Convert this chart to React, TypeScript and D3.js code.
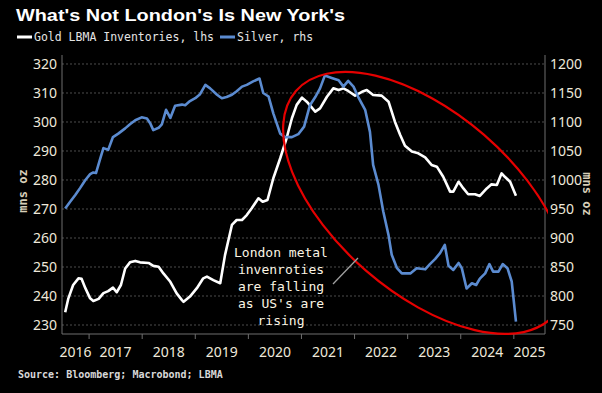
import React, { useEffect, useRef } from "react";
import * as d3 from "d3";

// gold LBMA inventories (lhs, mns oz), dates as decimal years
const goldDates = [
  2016.55, 2016.61, 2016.7, 2016.8, 2016.86, 2016.93, 2017.02, 2017.08, 2017.18, 2017.27,
  2017.36, 2017.45, 2017.52, 2017.6, 2017.68, 2017.77, 2017.87, 2017.96, 2018.12, 2018.21,
  2018.31, 2018.4, 2018.53, 2018.65, 2018.75, 2018.78, 2018.9, 2019.03, 2019.15, 2019.22,
  2019.34, 2019.47, 2019.56, 2019.69, 2019.78, 2019.88, 2019.97, 2020.06, 2020.19, 2020.27,
  2020.36, 2020.47, 2020.6, 2020.72, 2020.82, 2020.91, 2021.01, 2021.1, 2021.26, 2021.35,
  2021.48, 2021.6, 2021.7, 2021.79, 2021.88, 2022.01, 2022.14, 2022.23, 2022.35, 2022.51,
  2022.64, 2022.76, 2022.86, 2022.95, 2023.08, 2023.2, 2023.33, 2023.45, 2023.55, 2023.67,
  2023.8, 2023.86, 2023.96, 2024.05, 2024.14, 2024.27, 2024.36, 2024.49, 2024.58, 2024.68,
  2024.77, 2024.83, 2024.93, 2025.04,
];
const goldValues = [
  234.4, 239.2, 243.8, 246.1, 245.9, 242.7, 239.2, 238.3, 239, 241,
  241.7, 242.9, 241.3, 243.8, 249.5, 251.6, 252.1, 251.6, 251.4, 250.4,
  250.1, 247.8, 244.9, 240.9, 238.6, 238, 239.8, 242.7, 246.1, 246.7,
  245.5, 244.4, 254.1, 264.5, 266.2, 266.2, 267.9, 270.2, 273.7, 272.5,
  273.1, 280.6, 287.5, 294.4, 301.3, 305.9, 308.4, 307, 303.6, 304.7,
  308.7, 311.6, 311, 311.6, 310.7, 309.1, 310.4, 311, 309.3, 309.1,
  307, 300.1, 295.5, 291.8, 289.8, 289.2, 287.8, 285.2, 284.6, 281.1,
  276, 276, 279.4, 277.1, 275.1, 275.1, 274.5, 277.1, 278.5, 278.3,
  282.3, 281.1, 279.4, 274.6,
];

// silver (rhs, mns oz)
const silverDates = [
  2016.55, 2016.64, 2016.74, 2016.83, 2016.93, 2017.02, 2017.08, 2017.13, 2017.21, 2017.27,
  2017.36, 2017.45, 2017.55, 2017.68, 2017.77, 2017.87, 2017.99, 2018.09, 2018.15, 2018.21,
  2018.31, 2018.37, 2018.45, 2018.53, 2018.62, 2018.75, 2018.81, 2018.9, 2019.0, 2019.09,
  2019.19, 2019.28, 2019.41, 2019.5, 2019.59, 2019.69, 2019.78, 2019.88, 2019.97, 2020.09,
  2020.21, 2020.28, 2020.38, 2020.47, 2020.6, 2020.69, 2020.82, 2020.94, 2021.05, 2021.16,
  2021.26, 2021.35, 2021.44, 2021.57, 2021.7, 2021.79, 2021.88, 2021.98, 2022.07, 2022.2,
  2022.29, 2022.35, 2022.45, 2022.54, 2022.64, 2022.7, 2022.8, 2022.89, 2023.05, 2023.17,
  2023.33, 2023.42, 2023.52, 2023.61, 2023.7, 2023.77, 2023.86, 2023.96, 2024.02, 2024.11,
  2024.21, 2024.29, 2024.36, 2024.46, 2024.54, 2024.61, 2024.71, 2024.79, 2024.88, 2024.96,
  2025.04,
];
const silverValues = [
  951, 962, 974, 986, 1000, 1010, 1013, 1012, 1037, 1055,
  1052, 1074, 1080, 1089, 1096, 1103, 1108, 1106, 1098, 1086,
  1090, 1096, 1121, 1107, 1128, 1130, 1129, 1136, 1141, 1148,
  1164, 1158, 1147, 1141, 1143, 1147, 1153, 1161, 1164, 1170,
  1175, 1150, 1144, 1115, 1080, 1074, 1074, 1079, 1092, 1129,
  1143, 1158, 1180, 1176, 1172, 1161, 1171, 1161, 1143, 1121,
  1083, 1026, 992, 946, 905, 871, 848, 839, 839, 848,
  846, 855, 864, 874, 888, 852, 845, 857, 848, 813,
  822, 819, 830, 839, 855, 842, 842, 855, 848, 825,
  756,
];

const leftTicks = [230, 240, 250, 260, 270, 280, 290, 300, 310, 320];
const rightTicks = [750, 800, 850, 900, 950, 1000, 1050, 1100, 1150, 1200];
const years = [2016, 2017, 2018, 2019, 2020, 2021, 2022, 2023, 2024, 2025];
const noteLines = ["London metal", "invenroties", "are falling", "as US's are", "rising"];

const W = 602;
const H = 393;
const plot = { left: 62, right: 545, top: 55, bottom: 334 };

const App = () => {
  const ref = useRef(null);

  useEffect(() => {
    document.body.style.margin = "0";
    document.body.style.background = "#000";
    const svg = d3.select(ref.current);
    svg.selectAll("*").remove();

    const x = d3.scaleLinear().domain([2016.49, 2025.587]).range([plot.left, plot.right]);
    const yL = d3.scaleLinear().domain([226.9, 323.1]).range([plot.bottom, plot.top]);
    const yR = d3.scaleLinear().domain([734.5, 1215.5]).range([plot.bottom, plot.top]);

    svg.append("rect").attr("width", W).attr("height", H).attr("fill", "#000");

    // title + legend
    svg.append("text")
      .attr("x", 16).attr("y", 21)
      .attr("fill", "#fff")
      .attr("font-family", "Liberation Sans, Arial, sans-serif")
      .attr("font-weight", 900)
      .attr("font-size", 16.5)
      .attr("textLength", 329)
      .attr("lengthAdjust", "spacingAndGlyphs")
      .text("What's Not London's Is New York's");

    const legend = [
      { label: "Gold LBMA Inventories, lhs", color: "#ffffff", x: 17 },
      { label: "Silver, rhs", color: "#5b8bd0", x: 220 },
    ];
    legend.forEach((d) => {
      svg.append("line")
        .attr("x1", d.x).attr("x2", d.x + 15).attr("y1", 37).attr("y2", 37)
        .attr("stroke", d.color).attr("stroke-width", 3);
      svg.append("text")
        .attr("x", d.x + 17).attr("y", 41)
        .attr("fill", "#e4e4e4")
        .attr("font-family", "DejaVu Sans Mono, monospace")
        .attr("font-size", 11.5)
        .text(d.label);
    });

    // grid
    svg.append("g")
      .selectAll("line")
      .data(leftTicks)
      .enter()
      .append("line")
      .attr("x1", plot.left).attr("x2", plot.right)
      .attr("y1", (d) => yL(d)).attr("y2", (d) => yL(d))
      .attr("stroke", "#4d4d4d")
      .attr("stroke-dasharray", "2,2");

    // axis frame
    const axisColor = "#6e6e6e";
    svg.append("line").attr("x1", plot.left).attr("x2", plot.left)
      .attr("y1", plot.top).attr("y2", plot.bottom).attr("stroke", axisColor);
    svg.append("line").attr("x1", plot.right).attr("x2", plot.right)
      .attr("y1", plot.top).attr("y2", plot.bottom).attr("stroke", axisColor);
    svg.append("line").attr("x1", plot.left).attr("x2", plot.right)
      .attr("y1", plot.bottom).attr("y2", plot.bottom).attr("stroke", axisColor);

    const tickFont = "Noto Sans, sans-serif";
    const tickColor = "#eee8da";

    svg.append("g")
      .selectAll("text")
      .data(leftTicks)
      .enter()
      .append("text")
      .attr("x", 57).attr("y", (d) => yL(d) + 5)
      .attr("text-anchor", "end")
      .attr("fill", tickColor)
      .attr("font-family", tickFont)
      .attr("font-size", 14)
      .text((d) => d);

    svg.append("g")
      .selectAll("text")
      .data(rightTicks)
      .enter()
      .append("text")
      .attr("x", 550).attr("y", (d) => yR(d) + 5)
      .attr("fill", tickColor)
      .attr("font-family", tickFont)
      .attr("font-size", 14)
      .text((d) => d);

    // year ticks at boundaries, labels centred in the visible part of each year
    const [x0, x1] = x.domain();
    svg.append("g")
      .selectAll("line")
      .data(years.filter((yr) => yr > x0 && yr < x1))
      .enter()
      .append("line")
      .attr("x1", (d) => x(d)).attr("x2", (d) => x(d))
      .attr("y1", plot.bottom).attr("y2", plot.bottom + 5)
      .attr("stroke", axisColor);

    svg.append("g")
      .selectAll("text")
      .data(years)
      .enter()
      .append("text")
      .attr("x", (d) => (x(Math.max(d, x0)) + x(Math.min(d + 1, x1))) / 2)
      .attr("y", 357)
      .attr("text-anchor", "middle")
      .attr("fill", tickColor)
      .attr("font-family", tickFont)
      .attr("font-size", 14)
      .text((d) => d);

    // axis titles
    const titleFont = "DejaVu Sans Mono, monospace";
    svg.append("text")
      .attr("transform", "translate(27,191) rotate(-90)")
      .attr("text-anchor", "middle")
      .attr("fill", "#d8cfb8")
      .attr("font-family", titleFont)
      .attr("font-weight", "bold")
      .attr("font-size", 12)
      .text("mns oz");
    svg.append("text")
      .attr("transform", "translate(583,194) rotate(90)")
      .attr("text-anchor", "middle")
      .attr("fill", "#d8cfb8")
      .attr("font-family", titleFont)
      .attr("font-weight", "bold")
      .attr("font-size", 12)
      .text("mns oz");

    // lines
    const gold = goldDates.map((d, i) => ({ t: d, v: goldValues[i] }));
    const silver = silverDates.map((d, i) => ({ t: d, v: silverValues[i] }));

    svg.append("path")
      .datum(gold)
      .attr("d", d3.line<any>().x((d) => x(d.t)).y((d) => yL(d.v)))
      .attr("fill", "none")
      .attr("stroke", "#ffffff")
      .attr("stroke-width", 2.6)
      .attr("stroke-linejoin", "round");

    svg.append("path")
      .datum(silver)
      .attr("d", d3.line<any>().x((d) => x(d.t)).y((d) => yR(d.v)))
      .attr("fill", "none")
      .attr("stroke", "#5b8bd0")
      .attr("stroke-width", 2.6)
      .attr("stroke-linejoin", "round");

    // red ellipse annotation, clipped at the right axis
    svg.append("clipPath").attr("id", "plotclip")
      .append("rect")
      .attr("x", plot.left).attr("y", plot.top - 20)
      .attr("width", plot.right - plot.left + 3).attr("height", plot.bottom - plot.top + 25);

    const ecx = x(2023.33);
    const ecy = yL(272.1);
    svg.append("g")
      .attr("clip-path", "url(#plotclip)")
      .append("ellipse")
      .attr("cx", ecx).attr("cy", ecy)
      .attr("rx", 171).attr("ry", 90)
      .attr("transform", `rotate(40.9 ${ecx} ${ecy})`)
      .attr("fill", "none")
      .attr("stroke", "#e50000")
      .attr("stroke-width", 2.2);

    // pointer + note
    svg.append("line")
      .attr("x1", 333).attr("y1", 284).attr("x2", 358).attr("y2", 258)
      .attr("stroke", "#a0a0a0").attr("stroke-width", 1.3);

    svg.append("g")
      .selectAll("text")
      .data(noteLines)
      .enter()
      .append("text")
      .attr("x", 281)
      .attr("y", (d, i) => 256.5 + i * 17)
      .attr("text-anchor", "middle")
      .attr("fill", "#fbf5e4")
      .attr("font-family", "DejaVu Sans Mono, monospace")
      .attr("font-size", 13)
      .text((d) => d);

    svg.append("text")
      .attr("x", 18).attr("y", 378)
      .attr("fill", "#d8d8d8")
      .attr("font-family", "DejaVu Sans Mono, monospace")
      .attr("font-weight", "bold")
      .attr("font-size", 10)
      .text("Source: Bloomberg; Macrobond; LBMA");
  }, []);

  return <svg ref={ref} width={W} height={H} style={{ display: "block" }} />;
};

export default App;
